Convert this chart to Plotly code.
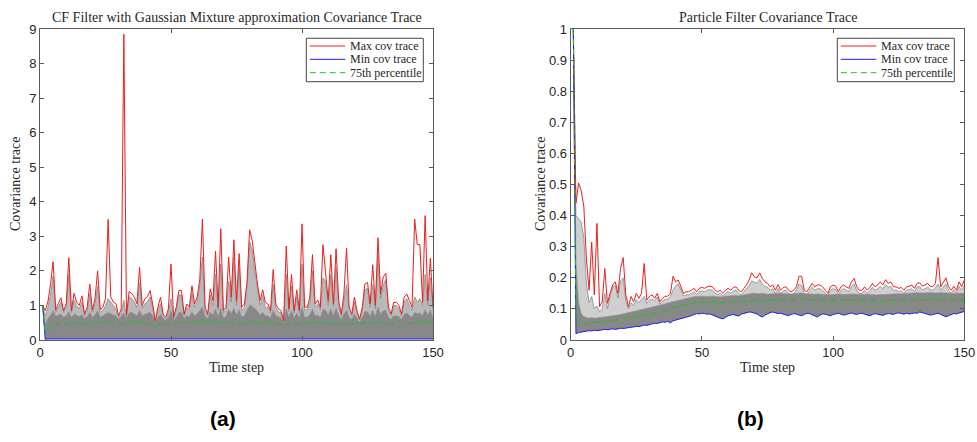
import plotly.graph_objects as go

# ---------------------------------------------------------------------------
# Time axis (steps 1..150) shared by both panels
# ---------------------------------------------------------------------------
steps = list(range(1, 151))

# ---------------------------------------------------------------------------
# (a) CF filter with Gaussian-mixture approximation
# ---------------------------------------------------------------------------
cf_max = [
    1.00, 0.85, 1.10, 1.60, 2.27, 0.87, 1.05, 1.22, 0.85, 1.05,
    2.38, 0.85, 1.35, 1.09, 1.00, 1.28, 0.75, 0.95, 1.62, 0.87,
    1.20, 2.00, 0.87, 0.95, 1.20, 3.49, 1.24, 1.10, 1.05, 0.70,
    0.90, 8.85, 0.72, 1.40, 1.35, 1.24, 1.05, 2.10, 1.00, 1.19,
    1.25, 1.43, 1.04, 0.56, 0.95, 1.24, 0.75, 0.66, 0.90, 2.20,
    0.66, 0.95, 1.43, 1.43, 0.75, 1.04, 0.95, 1.57, 1.04, 1.24,
    1.77, 3.50, 0.95, 0.75, 1.48, 1.14, 2.57, 0.95, 3.22, 0.85,
    0.95, 2.40, 1.24, 2.90, 1.14, 2.50, 0.95, 1.04, 1.67, 3.19,
    2.88, 2.20, 1.62, 1.14, 1.45, 1.09, 1.04, 0.85, 2.04, 1.04,
    0.90, 0.85, 0.56, 2.72, 0.90, 1.90, 0.85, 1.45, 0.85, 3.36,
    0.95, 0.95, 1.24, 2.47, 1.04, 1.16, 0.95, 2.76, 1.91, 1.14,
    2.47, 1.04, 2.64, 1.14, 0.75, 1.33, 2.66, 0.95, 0.75, 1.24,
    0.85, 0.61, 0.95, 1.62, 1.67, 1.04, 2.18, 1.00, 2.96, 1.33,
    1.82, 1.93, 0.95, 0.75, 1.09, 1.09, 1.00, 0.75, 1.24, 1.33,
    1.14, 0.95, 3.50, 2.76, 2.76, 1.09, 3.60, 1.14, 2.37, 0.95,
]
cf_min = [
    1.00, 0.02, 0.03, 0.03, 0.02, 0.03, 0.04, 0.03, 0.02, 0.03,
    0.03, 0.02, 0.03, 0.04, 0.03, 0.03, 0.02, 0.03, 0.03, 0.04,
    0.03, 0.02, 0.03, 0.03, 0.04, 0.03, 0.02, 0.03, 0.03, 0.02,
    0.03, 0.04, 0.03, 0.02, 0.03, 0.03, 0.04, 0.03, 0.02, 0.03,
    0.03, 0.02, 0.03, 0.04, 0.03, 0.03, 0.02, 0.03, 0.03, 0.04,
    0.03, 0.02, 0.03, 0.03, 0.04, 0.03, 0.02, 0.03, 0.03, 0.02,
    0.03, 0.04, 0.03, 0.02, 0.03, 0.03, 0.04, 0.03, 0.02, 0.03,
    0.03, 0.02, 0.03, 0.04, 0.03, 0.03, 0.02, 0.03, 0.03, 0.04,
    0.03, 0.02, 0.03, 0.03, 0.04, 0.03, 0.02, 0.03, 0.03, 0.02,
    0.03, 0.04, 0.03, 0.02, 0.03, 0.03, 0.04, 0.03, 0.02, 0.03,
    0.03, 0.02, 0.03, 0.04, 0.03, 0.03, 0.02, 0.03, 0.03, 0.04,
    0.03, 0.02, 0.03, 0.03, 0.04, 0.03, 0.02, 0.03, 0.03, 0.02,
    0.03, 0.04, 0.03, 0.02, 0.03, 0.03, 0.04, 0.03, 0.02, 0.03,
    0.03, 0.02, 0.03, 0.04, 0.03, 0.03, 0.02, 0.03, 0.03, 0.04,
    0.03, 0.02, 0.03, 0.03, 0.04, 0.03, 0.02, 0.03, 0.03, 0.03,
]
cf_p75 = [
    1.00, 0.22, 0.30, 0.38, 0.44, 0.42, 0.46, 0.50, 0.47, 0.45,
    0.52, 0.48, 0.50, 0.47, 0.45, 0.49, 0.46, 0.44, 0.50, 0.47,
    0.52, 0.56, 0.50, 0.48, 0.51, 0.54, 0.52, 0.50, 0.49, 0.46,
    0.48, 0.47, 0.45, 0.50, 0.54, 0.52, 0.50, 0.52, 0.49, 0.50,
    0.48, 0.46, 0.40, 0.37, 0.42, 0.48, 0.47, 0.46, 0.44, 0.50,
    0.46, 0.48, 0.52, 0.55, 0.50, 0.52, 0.49, 0.51, 0.53, 0.52,
    0.55, 0.58, 0.52, 0.50, 0.53, 0.51, 0.55, 0.50, 0.53, 0.49,
    0.50, 0.52, 0.48, 0.50, 0.46, 0.48, 0.47, 0.45, 0.49, 0.52,
    0.55, 0.53, 0.50, 0.48, 0.47, 0.49, 0.50, 0.52, 0.56, 0.50,
    0.46, 0.44, 0.42, 0.47, 0.46, 0.48, 0.45, 0.47, 0.46, 0.50,
    0.49, 0.47, 0.50, 0.54, 0.50, 0.48, 0.46, 0.50, 0.48, 0.46,
    0.49, 0.47, 0.50, 0.48, 0.46, 0.44, 0.48, 0.46, 0.45, 0.48,
    0.47, 0.45, 0.48, 0.50, 0.52, 0.49, 0.51, 0.48, 0.52, 0.50,
    0.49, 0.51, 0.47, 0.45, 0.43, 0.40, 0.38, 0.42, 0.46, 0.48,
    0.47, 0.50, 0.54, 0.52, 0.55, 0.50, 0.53, 0.51, 0.49, 0.48,
]
# upper edge of the dense bulk of individual runs
cf_bulk = [
    1.00, 0.45, 0.62, 0.70, 0.85, 0.68, 0.72, 0.75, 0.66, 0.70,
    0.82, 0.66, 0.75, 0.72, 0.68, 0.74, 0.62, 0.68, 0.80, 0.66,
    0.72, 0.85, 0.66, 0.70, 0.74, 0.80, 0.76, 0.72, 0.70, 0.60,
    0.68, 0.78, 0.62, 0.78, 0.80, 0.76, 0.70, 0.86, 0.70, 0.74,
    0.76, 0.80, 0.70, 0.50, 0.66, 0.74, 0.62, 0.58, 0.66, 0.84,
    0.58, 0.66, 0.80, 0.80, 0.62, 0.70, 0.66, 0.82, 0.70, 0.76,
    0.86, 0.95, 0.68, 0.62, 0.80, 0.72, 0.90, 0.68, 0.92, 0.64,
    0.68, 0.88, 0.76, 0.92, 0.72, 0.88, 0.66, 0.70, 0.86, 1.00,
    0.98, 0.90, 0.84, 0.72, 0.80, 0.70, 0.70, 0.64, 0.86, 0.70,
    0.66, 0.64, 0.50, 0.90, 0.66, 0.84, 0.64, 0.78, 0.64, 0.95,
    0.66, 0.66, 0.74, 0.90, 0.70, 0.72, 0.66, 0.88, 0.86, 0.72,
    0.90, 0.70, 0.92, 0.72, 0.60, 0.76, 0.86, 0.66, 0.60, 0.74,
    0.64, 0.52, 0.66, 0.82, 0.82, 0.70, 0.86, 0.68, 0.95, 0.76,
    0.84, 0.86, 0.66, 0.60, 0.70, 0.70, 0.68, 0.60, 0.74, 0.78,
    0.70, 0.66, 0.80, 0.76, 0.78, 0.70, 0.88, 0.72, 0.86, 0.66,
]
# second-largest run at each step (outer edge of the grey spread)
cf_second = [
    1.00, 0.70, 0.95, 1.30, 1.85, 0.80, 0.95, 1.10, 0.80, 0.95,
    1.90, 0.80, 1.15, 1.00, 0.90, 1.10, 0.70, 0.85, 1.35, 0.80,
    1.05, 1.55, 0.80, 0.85, 1.00, 1.20, 1.10, 1.00, 0.90, 0.65,
    0.80, 1.15, 0.68, 1.25, 1.20, 1.10, 0.95, 1.65, 0.92, 1.05,
    1.10, 1.25, 0.95, 0.52, 0.85, 1.05, 0.70, 0.62, 0.80, 1.20,
    0.62, 0.85, 1.30, 1.30, 0.70, 0.95, 0.88, 1.35, 0.95, 1.10,
    1.60, 2.40, 0.85, 0.70, 1.30, 1.00, 1.90, 0.88, 2.20, 0.78,
    0.88, 1.70, 1.10, 2.40, 1.00, 2.10, 0.85, 0.95, 1.50, 2.85,
    2.60, 2.00, 1.45, 1.00, 1.30, 0.95, 0.95, 0.78, 1.60, 0.95,
    0.82, 0.78, 0.52, 1.90, 0.82, 1.55, 0.78, 1.25, 0.78, 2.20,
    0.88, 0.88, 1.10, 2.00, 0.95, 1.05, 0.88, 1.80, 1.70, 1.00,
    1.90, 0.95, 2.10, 1.00, 0.70, 1.20, 1.60, 0.85, 0.70, 1.10,
    0.78, 0.58, 0.85, 1.45, 1.50, 0.95, 1.60, 0.90, 2.45, 1.20,
    1.60, 1.75, 0.85, 0.70, 1.00, 1.00, 0.90, 0.70, 1.10, 1.20,
    1.00, 0.88, 1.25, 1.10, 1.20, 1.00, 1.90, 1.00, 1.80, 0.88,
]

# ---------------------------------------------------------------------------
# (b) Particle filter
# ---------------------------------------------------------------------------
pf_max = [
    1.000, 0.440, 0.505, 0.480, 0.430, 0.260, 0.160, 0.315, 0.145, 0.375,
    0.107, 0.123, 0.230, 0.118, 0.150, 0.177, 0.187, 0.150, 0.230, 0.265,
    0.145, 0.107, 0.140, 0.123, 0.150, 0.134, 0.150, 0.246, 0.128, 0.140,
    0.145, 0.134, 0.150, 0.123, 0.134, 0.140, 0.141, 0.150, 0.205, 0.187,
    0.193, 0.171, 0.150, 0.155, 0.155, 0.160, 0.166, 0.155, 0.166, 0.169,
    0.166, 0.171, 0.173, 0.171, 0.160, 0.155, 0.160, 0.150, 0.160, 0.166,
    0.160, 0.169, 0.171, 0.160, 0.155, 0.166, 0.177, 0.193, 0.216, 0.203,
    0.200, 0.216, 0.198, 0.187, 0.182, 0.171, 0.177, 0.160, 0.178, 0.160,
    0.169, 0.171, 0.160, 0.155, 0.160, 0.171, 0.205, 0.205, 0.160, 0.155,
    0.171, 0.182, 0.171, 0.177, 0.177, 0.171, 0.160, 0.150, 0.171, 0.177,
    0.173, 0.155, 0.171, 0.177, 0.171, 0.166, 0.187, 0.198, 0.171, 0.160,
    0.160, 0.171, 0.160, 0.169, 0.182, 0.171, 0.177, 0.187, 0.177, 0.194,
    0.182, 0.187, 0.171, 0.171, 0.166, 0.169, 0.160, 0.171, 0.173, 0.177,
    0.166, 0.182, 0.184, 0.173, 0.177, 0.182, 0.173, 0.171, 0.182, 0.265,
    0.171, 0.187, 0.200, 0.171, 0.160, 0.173, 0.160, 0.187, 0.171, 0.193,
]
pf_min = [
    1.000, 0.020, 0.024, 0.026, 0.027, 0.028, 0.030, 0.029, 0.031, 0.030,
    0.032, 0.033, 0.034, 0.033, 0.035, 0.036, 0.034, 0.037, 0.038, 0.037,
    0.039, 0.040, 0.041, 0.042, 0.044, 0.043, 0.046, 0.048, 0.047, 0.050,
    0.052, 0.054, 0.053, 0.056, 0.058, 0.057, 0.060, 0.055, 0.062, 0.064,
    0.066, 0.068, 0.070, 0.072, 0.075, 0.078, 0.082, 0.085, 0.084, 0.086,
    0.085, 0.083, 0.084, 0.080, 0.076, 0.072, 0.070, 0.068, 0.074, 0.078,
    0.080, 0.082, 0.079, 0.077, 0.083, 0.086, 0.088, 0.090, 0.089, 0.086,
    0.084, 0.078, 0.074, 0.080, 0.085, 0.088, 0.090, 0.087, 0.085, 0.086,
    0.084, 0.080, 0.078, 0.082, 0.085, 0.083, 0.080, 0.078, 0.082, 0.086,
    0.085, 0.082, 0.078, 0.074, 0.080, 0.084, 0.083, 0.080, 0.078, 0.082,
    0.084, 0.086, 0.083, 0.080, 0.082, 0.085, 0.087, 0.084, 0.082, 0.085,
    0.086, 0.083, 0.080, 0.078, 0.082, 0.085, 0.083, 0.081, 0.079, 0.083,
    0.085, 0.084, 0.082, 0.086, 0.087, 0.085, 0.083, 0.086, 0.084, 0.085,
    0.087, 0.086, 0.090, 0.088, 0.085, 0.083, 0.080, 0.082, 0.084, 0.086,
    0.082, 0.078, 0.075, 0.078, 0.082, 0.085, 0.084, 0.087, 0.090, 0.092,
]
pf_p75 = [
    1.000, 0.080, 0.052, 0.050, 0.054, 0.053, 0.055, 0.056, 0.055, 0.057,
    0.058, 0.057, 0.059, 0.060, 0.061, 0.062, 0.063, 0.064, 0.066, 0.068,
    0.069, 0.070, 0.072, 0.073, 0.075, 0.076, 0.078, 0.080, 0.081, 0.083,
    0.085, 0.087, 0.089, 0.091, 0.094, 0.097, 0.100, 0.102, 0.105, 0.107,
    0.109, 0.112, 0.114, 0.116, 0.118, 0.119, 0.120, 0.121, 0.122, 0.122,
    0.121, 0.120, 0.121, 0.122, 0.121, 0.120, 0.119, 0.121, 0.122, 0.123,
    0.122, 0.123, 0.124, 0.123, 0.124, 0.125, 0.126, 0.127, 0.128, 0.127,
    0.126, 0.127, 0.128, 0.127, 0.126, 0.127, 0.128, 0.129, 0.130, 0.131,
    0.130, 0.129, 0.128, 0.129, 0.130, 0.131, 0.132, 0.131, 0.130, 0.129,
    0.128, 0.127, 0.128, 0.129, 0.128, 0.127, 0.128, 0.127, 0.126, 0.127,
    0.128, 0.129, 0.128, 0.127, 0.128, 0.129, 0.130, 0.129, 0.128, 0.127,
    0.126, 0.127, 0.128, 0.127, 0.126, 0.125, 0.126, 0.127, 0.126, 0.125,
    0.126, 0.127, 0.128, 0.129, 0.128, 0.127, 0.128, 0.129, 0.130, 0.129,
    0.130, 0.131, 0.130, 0.129, 0.130, 0.131, 0.132, 0.131, 0.130, 0.131,
    0.132, 0.131, 0.130, 0.129, 0.130, 0.129, 0.128, 0.129, 0.130, 0.129,
]
pf_bulk = [
    1.000, 0.250, 0.120, 0.085, 0.075, 0.072, 0.070, 0.072, 0.070, 0.071,
    0.072, 0.073, 0.075, 0.074, 0.076, 0.078, 0.079, 0.080, 0.082, 0.084,
    0.085, 0.086, 0.088, 0.090, 0.092, 0.094, 0.096, 0.098, 0.100, 0.102,
    0.104, 0.106, 0.108, 0.110, 0.113, 0.116, 0.119, 0.121, 0.124, 0.127,
    0.129, 0.131, 0.133, 0.135, 0.137, 0.138, 0.139, 0.140, 0.141, 0.141,
    0.140, 0.141, 0.142, 0.141, 0.140, 0.139, 0.138, 0.140, 0.141, 0.142,
    0.141, 0.142, 0.143, 0.142, 0.143, 0.144, 0.146, 0.148, 0.150, 0.149,
    0.148, 0.149, 0.150, 0.148, 0.147, 0.148, 0.149, 0.150, 0.151, 0.150,
    0.149, 0.148, 0.147, 0.148, 0.149, 0.150, 0.152, 0.151, 0.149, 0.148,
    0.147, 0.146, 0.147, 0.148, 0.147, 0.146, 0.147, 0.146, 0.145, 0.146,
    0.147, 0.148, 0.147, 0.146, 0.147, 0.148, 0.149, 0.148, 0.147, 0.146,
    0.145, 0.146, 0.147, 0.146, 0.145, 0.144, 0.145, 0.146, 0.145, 0.146,
    0.147, 0.148, 0.149, 0.150, 0.149, 0.148, 0.149, 0.150, 0.151, 0.150,
    0.151, 0.152, 0.151, 0.150, 0.151, 0.152, 0.153, 0.152, 0.151, 0.152,
    0.153, 0.152, 0.151, 0.150, 0.151, 0.150, 0.149, 0.150, 0.151, 0.150,
]
pf_second = [
    1.000, 0.400, 0.390, 0.380, 0.330, 0.180, 0.120, 0.140, 0.100, 0.110,
    0.090, 0.100, 0.150, 0.100, 0.140, 0.170, 0.175, 0.135, 0.190, 0.200,
    0.125, 0.100, 0.120, 0.110, 0.130, 0.120, 0.130, 0.140, 0.118, 0.128,
    0.132, 0.125, 0.138, 0.115, 0.125, 0.130, 0.132, 0.140, 0.160, 0.175,
    0.180, 0.160, 0.142, 0.145, 0.146, 0.150, 0.155, 0.147, 0.155, 0.158,
    0.156, 0.160, 0.162, 0.160, 0.150, 0.147, 0.150, 0.142, 0.150, 0.156,
    0.150, 0.158, 0.160, 0.150, 0.146, 0.156, 0.165, 0.175, 0.190, 0.185,
    0.182, 0.195, 0.180, 0.172, 0.170, 0.160, 0.165, 0.150, 0.165, 0.150,
    0.158, 0.160, 0.150, 0.146, 0.150, 0.160, 0.180, 0.175, 0.150, 0.146,
    0.160, 0.170, 0.160, 0.165, 0.165, 0.160, 0.150, 0.142, 0.160, 0.165,
    0.162, 0.146, 0.160, 0.165, 0.160, 0.156, 0.172, 0.180, 0.160, 0.150,
    0.150, 0.160, 0.150, 0.158, 0.170, 0.160, 0.165, 0.172, 0.165, 0.178,
    0.170, 0.172, 0.160, 0.160, 0.156, 0.158, 0.150, 0.160, 0.162, 0.165,
    0.156, 0.170, 0.172, 0.162, 0.165, 0.170, 0.162, 0.160, 0.168, 0.180,
    0.160, 0.172, 0.180, 0.160, 0.150, 0.162, 0.150, 0.172, 0.160, 0.175,
]

legend_labels = ["Max cov trace", "Min cov trace", "75th percentile"]

for arr in (cf_max, cf_min, cf_p75, cf_bulk, cf_second,
            pf_max, pf_min, pf_p75, pf_bulk, pf_second):
    assert len(arr) == len(steps)

# ---------------------------------------------------------------------------
# Styling
# ---------------------------------------------------------------------------
W, H = 977, 442
SERIF = "Liberation Serif, Times New Roman, serif"
SANS = "Liberation Sans, Arial, sans-serif"
AX_COL = "rgb(90,90,90)"
TXT_COL = "rgb(38,38,38)"
RED, BLUE, GREEN = "rgb(235,30,30)", "rgb(30,30,240)", "rgb(20,200,20)"
GREY_DENSE = "rgb(136,136,136)"
DASH = "6px,4px"


def px_x(p):
    return p / W


def px_y(p):
    return (H - p) / H


ax_a = (40, 433)
ax_b = (570.7, 964.3)
top, bottom = 29, 340

panels = [
    dict(xa="x", ya="y", span=ax_a, legend_right=423.3, spread="rgba(128,128,128,0.55)",
         mx=cf_max, mn=cf_min, p75=cf_p75, bulk=cf_bulk, second=cf_second),
    dict(xa="x2", ya="y2", span=ax_b, legend_right=954.3, spread="rgba(128,128,128,0.38)",
         mx=pf_max, mn=pf_min, p75=pf_p75, bulk=pf_bulk, second=pf_second),
]

styles = [
    dict(color=RED, dash="solid"),
    dict(color=BLUE, dash="solid"),
    dict(color=GREEN, dash=DASH),
]

fig = go.Figure()
for p in panels:
    common = dict(xaxis=p["xa"], yaxis=p["ya"], hoverinfo="skip", showlegend=False)
    # grey envelope of the individual runs
    fig.add_trace(go.Scatter(x=steps, y=p["mn"], mode="lines",
                             line=dict(width=0, color=GREY_DENSE), **common))
    fig.add_trace(go.Scatter(x=steps, y=p["bulk"], mode="lines",
                             line=dict(width=0.6, color=GREY_DENSE),
                             fill="tonexty", fillcolor=GREY_DENSE, **common))
    fig.add_trace(go.Scatter(x=steps, y=p["second"], mode="lines",
                             line=dict(width=0.8, color="rgb(140,140,140)"),
                             fill="tonexty", fillcolor=p["spread"], **common))
    # summary curves
    for series, st, name in zip((p["mx"], p["mn"], p["p75"]), styles, legend_labels):
        fig.add_trace(go.Scatter(x=steps, y=series, mode="lines", name=name,
                                 line=dict(width=1, color=st["color"], dash=st["dash"]),
                                 **common))

axis_common = dict(
    showline=True, linecolor=AX_COL, linewidth=1, mirror="ticks",
    ticks="inside", ticklen=4, tickcolor=AX_COL, showgrid=False, zeroline=False,
    tickfont=dict(family=SANS, size=13, color=TXT_COL), automargin=False,
)

fig.update_layout(
    width=W, height=H,
    margin=dict(l=0, r=0, t=0, b=0),
    paper_bgcolor="white", plot_bgcolor="white",
    showlegend=False,
    xaxis=dict(domain=[px_x(ax_a[0]), px_x(ax_a[1])], range=[0, 150], dtick=50,
               anchor="y", **axis_common),
    yaxis=dict(domain=[px_y(bottom), px_y(top)], range=[0, 9], dtick=1,
               anchor="x", **axis_common),
    xaxis2=dict(domain=[px_x(ax_b[0]), px_x(ax_b[1])], range=[0, 150], dtick=50,
                anchor="y2", **axis_common),
    yaxis2=dict(domain=[px_y(bottom), px_y(top)], range=[0, 1], dtick=0.1,
                anchor="x2", **axis_common),
)

shapes = []
annotations = []

# compact boxed legend in the upper-right corner of each panel
LEG_W, LEG_TOP, LEG_BOT = 117, 38.3, 81.7
row_y = [46.0, 59.3, 72.7]
for p in panels:
    right = p["legend_right"]
    left = right - LEG_W
    shapes.append(dict(type="rect", xref="paper", yref="paper",
                       x0=px_x(left), x1=px_x(right), y0=px_y(LEG_BOT), y1=px_y(LEG_TOP),
                       line=dict(color="rgb(70,70,70)", width=1), fillcolor="white",
                       layer="above"))
    for ry, st, name in zip(row_y, styles, legend_labels):
        shapes.append(dict(type="line", xref="paper", yref="paper",
                           x0=px_x(left + 3.5), x1=px_x(left + 39), y0=px_y(ry), y1=px_y(ry),
                           line=dict(color=st["color"], width=1, dash=st["dash"]),
                           layer="above"))
        annotations.append(dict(text=name, x=px_x(left + 42), y=px_y(ry),
                                xref="paper", yref="paper", showarrow=False,
                                xanchor="left", yanchor="middle",
                                font=dict(family=SERIF, size=12, color=TXT_COL)))

titles = [
    "CF Filter with Gaussian Mixture approximation Covariance Trace",
    "Particle Filter Covariance Trace",
]
for text, p in zip(titles, panels):
    cx = (p["span"][0] + p["span"][1]) / 2
    annotations.append(dict(text=text, x=px_x(cx), y=px_y(18), xref="paper", yref="paper",
                            showarrow=False, xanchor="center", yanchor="middle",
                            font=dict(family=SERIF, size=14, color=TXT_COL)))
    annotations.append(dict(text="Time step", x=px_x(cx), y=px_y(367), xref="paper",
                            yref="paper", showarrow=False, xanchor="center",
                            yanchor="middle",
                            font=dict(family=SERIF, size=14, color=TXT_COL)))
for lx in (16, 541):
    annotations.append(dict(text="Covariance trace", x=px_x(lx), y=px_y(184), xref="paper",
                            yref="paper", showarrow=False, textangle=-90,
                            xanchor="center", yanchor="middle",
                            font=dict(family=SERIF, size=14, color=TXT_COL)))
for lbl, lx in (("(a)", 223), ("(b)", 750)):
    annotations.append(dict(text=f"<b>{lbl}</b>", x=px_x(lx), y=px_y(418), xref="paper",
                            yref="paper", showarrow=False, xanchor="center",
                            yanchor="middle",
                            font=dict(family=SANS, size=21, color="black")))

fig.update_layout(shapes=shapes, annotations=annotations)

fig.write_html("out.html")
